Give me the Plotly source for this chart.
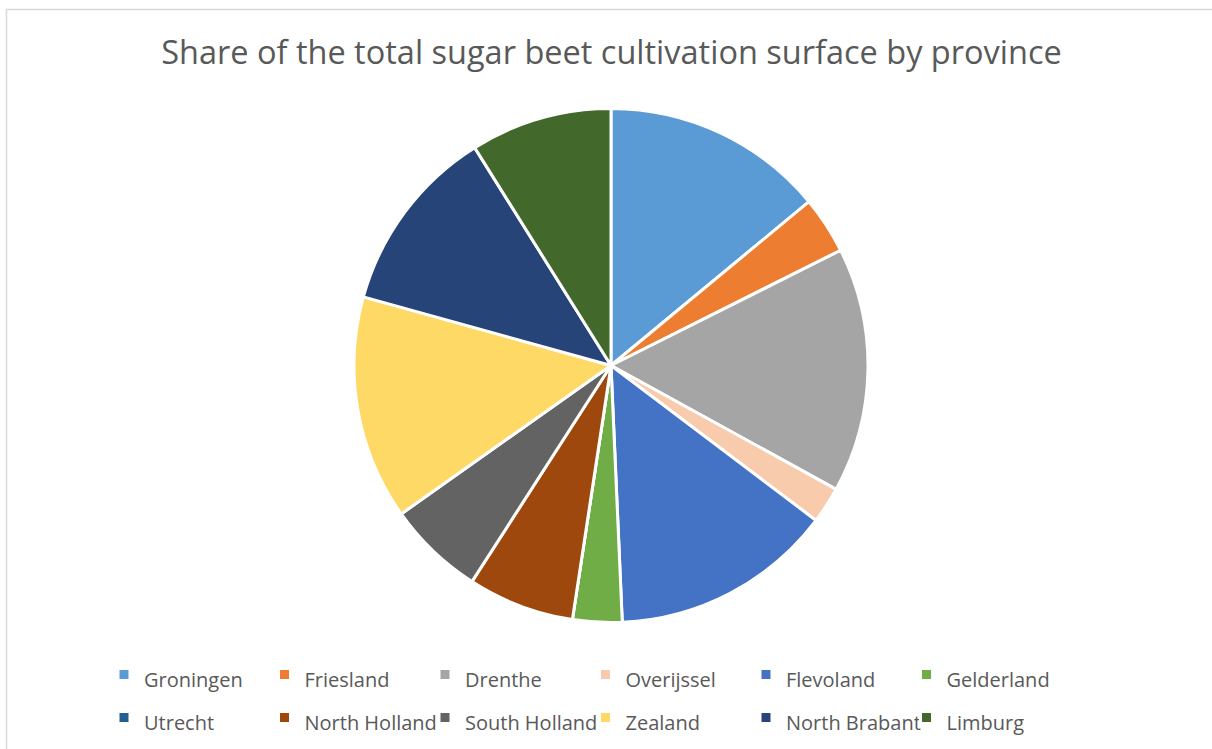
import plotly.graph_objects as go

# Share of the sugar beet cultivation surface (%) per province
provinces = ["Groningen", "Friesland", "Drenthe", "Overijssel", "Flevoland", "Gelderland",
             "Utrecht", "North Holland", "South Holland", "Zealand", "North Brabant", "Limburg"]
shares = [14.0, 3.6, 15.4, 2.3, 14.0, 3.1, 0.0, 6.7, 6.1, 14.1, 11.8, 8.9]
colors = ["#5B9BD5", "#ED7D31", "#A5A5A5", "#F8CBAD", "#4472C4", "#70AD47",
          "#255E91", "#9E480E", "#636363", "#FFD966", "#264478", "#43682B"]

W, H = 1212, 749
R_MARGIN = 192
plot_w = W - R_MARGIN

cx, cy, rad = 611, 365.5, 257
dom_x = [(cx - rad) / plot_w, (cx + rad) / plot_w]
dom_y = [1 - (cy + rad) / H, 1 - (cy - rad) / H]

font_family = "'Open Sans', Lato, sans-serif"
legend_labels = [f"<span style='font-size:20px'>{p}</span>" for p in provinces]

fig = go.Figure(go.Pie(
    labels=legend_labels,
    values=shares,
    sort=False,
    direction="clockwise",
    rotation=0,
    marker=dict(colors=colors, line=dict(color="white", width=3)),
    textinfo="none",
    hoverinfo="skip",
    domain=dict(x=dom_x, y=dom_y),
))

fig.update_layout(
    width=W, height=H,
    margin=dict(l=0, r=R_MARGIN, t=0, b=0),
    paper_bgcolor="white",
    plot_bgcolor="white",
    title=dict(
        text="Share of the total sugar beet cultivation surface by province",
        x=611.5 / W, xref="container", xanchor="center",
        y=1 - 53 / H, yref="container", yanchor="middle",
        font=dict(family=font_family, size=32.5, color="#595959"),
    ),
    legend=dict(
        orientation="h",
        x=104 / plot_w, xanchor="left",
        y=1 - 648 / H, yanchor="top",
        entrywidth=115.5,
        font=dict(family=font_family, size=30.8, color="#595959"),
        bgcolor="rgba(0,0,0,0)",
        traceorder="normal",
    ),
    shapes=[dict(
        type="rect", xref="paper", yref="paper",
        x0=6.5 / plot_w, x1=1.5, y0=-0.2, y1=1 - 9.5 / H,
        line=dict(color="#D9D9D9", width=1.5), fillcolor="rgba(0,0,0,0)",
        layer="below",
    )],
)

fig.write_html("out.html")
